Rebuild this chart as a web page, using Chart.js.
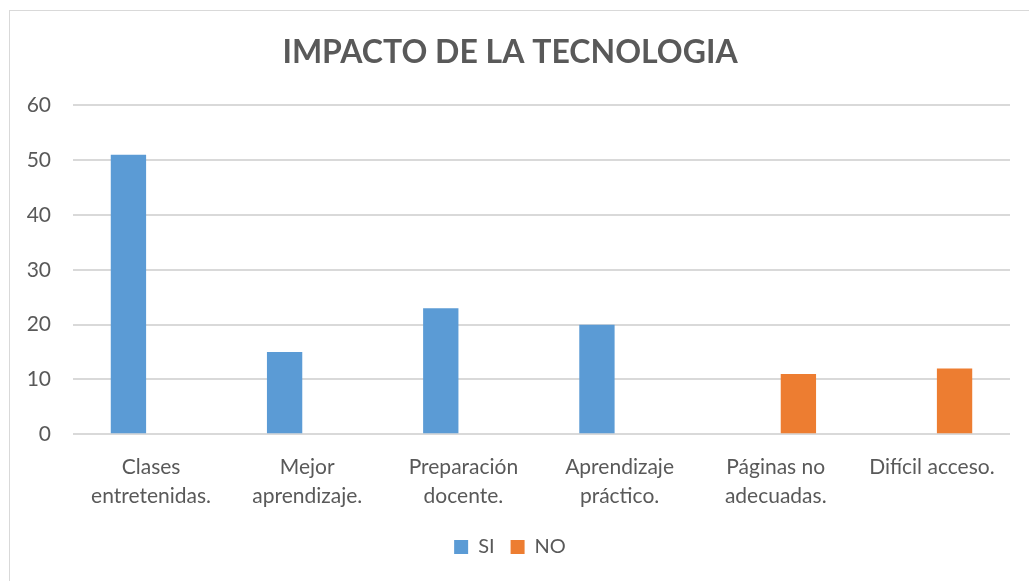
<!DOCTYPE html>
<html>
<head>
<meta charset="utf-8">
<script src="https://cdn.jsdelivr.net/npm/chart.js@4"></script>
<style>
  html, body { margin: 0; padding: 0; background: #fff; overflow: hidden; }
  .frame {
    position: absolute; left: 9px; top: 10px; width: 1030px; height: 600px;
    border: 1px solid #d9d9d9; box-sizing: border-box;
  }
  .wrap { position: absolute; left: 10px; top: 11px; width: 1019px; height: 570px; }
</style>
</head>
<body>
<div class="frame"></div>
<div class="wrap"><canvas id="chart"></canvas></div>
<script>
const categories = [
  ['Clases', 'entretenidas.'],
  ['Mejor', 'aprendizaje.'],
  ['Preparación', 'docente.'],
  ['Aprendizaje', 'práctico.'],
  ['Páginas no', 'adecuadas.'],
  ['Difícil acceso.']
];
const siValues = [51, 15, 23, 20, null, null];
const noValues = [null, null, null, null, 11, 12];
const yTicks = [0, 10, 20, 30, 40, 50, 60];

const gray = '#595959';
const font = 'Lato, "Open Sans", sans-serif';

document.addEventListener("DOMContentLoaded", () => {
    const ctx = document.getElementById('chart').getContext('2d');
    new Chart(ctx, {
        type: 'bar',
        data: {
            labels: categories,
            datasets: [{
                label: 'SI',
                data: siValues,
                backgroundColor: '#5b9bd5',
                categoryPercentage: 0.58,
                barPercentage: 0.78
            }, {
                label: 'NO',
                data: noValues,
                backgroundColor: '#ed7d31',
                categoryPercentage: 0.58,
                barPercentage: 0.78
            }]
        },
        options: {
            responsive: true,
            maintainAspectRatio: false,
            animation: false,
            layout: { padding: { left: 0, right: 19, top: 0, bottom: 14 } },
            plugins: {
                title: {
                    display: true,
                    text: 'IMPACTO DE LA TECNOLOGIA',
                    color: gray,
                    font: { family: font, size: 32, weight: 'bold' },
                    padding: { top: 22, bottom: 34 }
                },
                legend: {
                    position: 'bottom',
                    labels: {
                        color: gray,
                        font: { family: font, size: 20 },
                        boxWidth: 14,
                        boxHeight: 14,
                        padding: 16
                    }
                },
                tooltip: { enabled: false }
            },
            scales: {
                x: {
                    grid: { display: false },
                    border: { display: false },
                    ticks: {
                        color: gray,
                        font: { family: font, size: 21, lineHeight: 1.35 },
                        maxRotation: 0,
                        autoSkip: false,
                        padding: 11
                    }
                },
                y: {
                    min: 0,
                    max: 60,
                    afterBuildTicks: (scale) => {
                        scale.ticks = yTicks.map(v => ({ value: v }));
                    },
                    afterFit: (scale) => { scale.width = 63; },
                    grid: { color: '#d9d9d9', lineWidth: 2, drawTicks: false },
                    border: { display: false },
                    ticks: {
                        color: gray,
                        font: { family: font, size: 21 },
                        padding: 22
                    }
                }
            }
        }
    });
});
</script>
</body>
</html>
